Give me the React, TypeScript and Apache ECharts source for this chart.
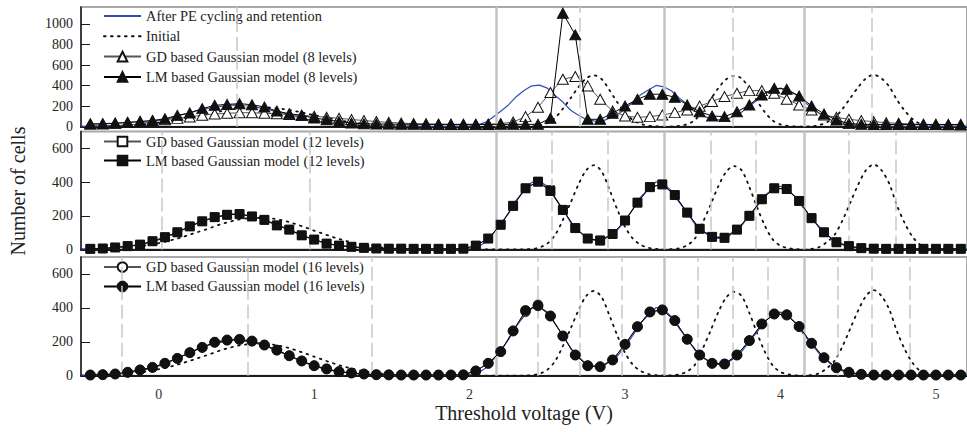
import React, { useEffect, useRef } from 'react';
import * as echarts from 'echarts';

const FONT = '"Liberation Serif", "Times New Roman", serif';

// Fine voltage grid (V) for measured distributions
const voltFine = [
  -0.5, -0.45, -0.4, -0.35, -0.3, -0.25, -0.2, -0.15, -0.1, -0.05,
  0.0, 0.05, 0.1, 0.15, 0.2, 0.25, 0.3, 0.35, 0.4, 0.45,
  0.5, 0.55, 0.6, 0.65, 0.7, 0.75, 0.8, 0.85, 0.9, 0.95,
  1.0, 1.05, 1.1, 1.15, 1.2, 1.25, 1.3, 1.35, 1.4, 1.45,
  1.5, 1.55, 1.6, 1.65, 1.7, 1.75, 1.8, 1.85, 1.9, 1.95,
  2.0, 2.05, 2.1, 2.15, 2.2, 2.25, 2.3, 2.35, 2.4, 2.45,
  2.5, 2.55, 2.6, 2.65, 2.7, 2.75, 2.8, 2.85, 2.9, 2.95,
  3.0, 3.05, 3.1, 3.15, 3.2, 3.25, 3.3, 3.35, 3.4, 3.45,
  3.5, 3.55, 3.6, 3.65, 3.7, 3.75, 3.8, 3.85, 3.9, 3.95,
  4.0, 4.05, 4.1, 4.15, 4.2, 4.25, 4.3, 4.35, 4.4, 4.45,
  4.5, 4.55, 4.6, 4.65, 4.7, 4.75, 4.8, 4.85, 4.9, 4.95,
  5.0, 5.05, 5.1, 5.15, 5.2,
];

const afterPE = [
  3, 4, 5, 7, 10, 13, 19, 24, 33, 44,
  58, 76, 94, 116, 135, 158, 172, 190, 197, 208,
  212, 204, 200, 184, 172, 147, 133, 112, 93, 73,
  60, 43, 33, 24, 19, 14, 11, 8, 6, 5,
  4, 4, 3, 3, 4, 3, 3, 4, 3, 4,
  6, 14, 42, 92, 150, 212, 292, 352, 398, 405,
  375, 305, 240, 160, 112, 70, 56, 52, 82, 115,
  172, 238, 310, 358, 402, 388, 348, 278, 218, 150,
  108, 76, 66, 70, 102, 142, 202, 258, 322, 358,
  375, 352, 310, 242, 188, 128, 88, 46, 28, 14,
  8, 5, 4, 3, 3, 4, 3, 3, 4, 3,
  3, 3, 4, 3, 3,
];

const initial = [
  1, 2, 3, 4, 6, 9, 12, 17, 22, 30,
  38, 48, 60, 73, 88, 103, 118, 134, 150, 163,
  175, 183, 188, 190, 188, 181, 172, 160, 145, 129,
  112, 96, 80, 65, 52, 40, 30, 22, 15, 10,
  6, 4, 2, 1, 0, 0, 0, 0, 0, 0,
  0, 0, 0, 0, 0, 0, 0, 1, 3, 12,
  35, 86, 175, 278, 385, 470, 500, 462, 355, 238,
  135, 65, 28, 10, 3, 1, 2, 8, 25, 65,
  160, 265, 375, 460, 495, 470, 370, 250, 140, 60,
  22, 8, 2, 1, 4, 15, 45, 90, 175, 280,
  385, 470, 505, 470, 390, 260, 155, 75, 27, 8,
  3, 1, 0, 0, 0,
];

// Model evaluation voltages (V)
const voltModel = [
  -0.44, -0.36, -0.28, -0.2, -0.12, -0.04, 0.04, 0.12, 0.2, 0.28,
  0.36, 0.44, 0.52, 0.6, 0.68, 0.76, 0.84, 0.92, 1.0, 1.08,
  1.16, 1.24, 1.32, 1.4, 1.48, 1.56, 1.64, 1.72, 1.8, 1.88,
  1.96, 2.04, 2.12, 2.2, 2.28, 2.36, 2.44, 2.52, 2.6, 2.68,
  2.76, 2.84, 2.92, 3.0, 3.08, 3.16, 3.24, 3.32, 3.4, 3.48,
  3.56, 3.64, 3.72, 3.8, 3.88, 3.96, 4.04, 4.12, 4.2, 4.28,
  4.36, 4.44, 4.52, 4.6, 4.68, 4.76, 4.84, 4.92, 5.0, 5.08,
  5.16,
];

const gd8 = [
  28, 30, 35, 42, 50, 58, 68, 81, 95, 112,
  124, 130, 136, 136, 130, 126, 118, 110, 102, 92,
  82, 70, 60, 50, 42, 35, 30, 27, 24, 22,
  21, 20, 22, 30, 45, 98, 189, 332, 462, 488,
  397, 267, 153, 104, 91, 98, 114, 137, 163, 200,
  245, 293, 325, 351, 351, 325, 267, 212, 163, 114,
  91, 72, 59, 49, 39, 33, 26, 22, 20, 18,
  17,
];

const lm8 = [
  25, 26, 33, 41, 50, 60, 77, 110, 134, 176,
  208, 217, 224, 214, 192, 152, 126, 110, 84, 68,
  51, 36, 29, 26, 25, 24, 24, 23, 23, 23,
  23, 23, 23, 23, 23, 23, 23, 82, 1105, 894,
  72, 72, 130, 202, 267, 316, 316, 287, 212, 146,
  104, 98, 146, 212, 309, 374, 364, 299, 202, 124,
  65, 30, 23, 22, 22, 22, 22, 22, 22, 22,
  22,
];

const gd12 = [
  4, 6, 12, 20, 29, 49, 73, 102, 137, 167,
  192, 206, 210, 196, 176, 143, 118, 84, 59, 35,
  23, 16, 10, 6, 5, 5, 4, 4, 4, 4,
  5, 23, 65, 147, 259, 363, 404, 355, 235, 127,
  65, 55, 92, 172, 278, 372, 386, 323, 219, 123,
  75, 72, 118, 200, 298, 363, 359, 288, 186, 102,
  43, 20, 8, 5, 4, 4, 4, 4, 4, 4,
  4,
];

const lm12 = [
  4, 6, 12, 20, 29, 49, 73, 102, 137, 167,
  192, 206, 210, 196, 176, 143, 118, 84, 59, 35,
  23, 16, 10, 6, 5, 5, 4, 4, 4, 4,
  5, 23, 65, 147, 259, 363, 402, 347, 235, 127,
  65, 53, 92, 172, 278, 370, 386, 323, 219, 123,
  75, 69, 118, 200, 298, 363, 359, 288, 186, 102,
  43, 20, 8, 5, 4, 4, 4, 4, 4, 4,
  4,
];

const gd16 = [
  4, 6, 10, 20, 34, 49, 73, 102, 136, 167,
  197, 210, 214, 204, 181, 151, 118, 87, 59, 40,
  24, 16, 10, 6, 5, 4, 4, 4, 4, 4,
  5, 28, 73, 142, 264, 375, 420, 352, 234, 122,
  59, 53, 93, 185, 289, 376, 388, 325, 215, 122,
  73, 69, 122, 207, 305, 364, 362, 290, 191, 106,
  47, 20, 8, 4, 4, 4, 4, 4, 4, 4,
  4,
];

const lm16 = [
  4, 6, 10, 20, 34, 49, 73, 102, 136, 167,
  197, 210, 214, 204, 181, 151, 118, 87, 59, 40,
  24, 16, 10, 6, 5, 4, 4, 4, 4, 4,
  5, 28, 73, 142, 264, 384, 413, 352, 234, 122,
  59, 53, 93, 185, 289, 376, 388, 325, 215, 122,
  73, 69, 122, 207, 305, 364, 358, 290, 191, 106,
  47, 20, 8, 4, 4, 4, 4, 4, 4, 4,
  4,
];

// Read reference voltages (V)
const solidRefs = [2.17, 3.25, 4.15];
const dashedRefs8 = [0.5, 2.71, 3.69, 4.59];
const dashedRefs12 = [0.02, 0.97, 2.53, 2.89, 3.55, 3.84, 4.44, 4.74];
const dashedRefs16 = [-0.24, 0.57, 1.37, 2.44, 2.71, 2.98, 3.47, 3.69, 3.92, 4.37, 4.59, 4.83];

const yTicksTop = [0, 200, 400, 600, 800, 1000];
const yTicksLow = [0, 200, 400, 600];
const xTicks = [0, 1, 2, 3, 4, 5];

const NAME_AFTER = 'After PE cycling and retention';
const NAME_INIT = 'Initial';
const NAME_GD8 = 'GD based Gaussian model (8 levels)';
const NAME_LM8 = 'LM based Gaussian model (8 levels)';
const NAME_GD12 = 'GD based Gaussian model (12 levels)';
const NAME_LM12 = 'LM based Gaussian model (12 levels)';
const NAME_GD16 = 'GD based Gaussian model (16 levels)';
const NAME_LM16 = 'LM based Gaussian model (16 levels)';

const zip = (xs: number[], ys: number[]) => xs.map((x, i) => [x, ys[i]]);

export default function App() {
  const ref = useRef<HTMLDivElement>(null);

  useEffect(() => {
    document.body.style.margin = '0';
    const chart = echarts.init(ref.current!, null, { renderer: 'svg' });

    const gridLeft = 81;
    const gridWidth = 888.6;
    const grids = [
      { left: gridLeft, top: 7, width: gridWidth, height: 119.7 },
      { left: gridLeft, top: 131.5, width: gridWidth, height: 118 },
      { left: gridLeft, top: 257, width: gridWidth, height: 118.7 },
    ].map((g) => ({ ...g, show: true, borderColor: '#a8a8a8', borderWidth: 2, backgroundColor: 'transparent' }));

    const xAxes = [0, 1, 2].map((i) => ({
      type: 'value',
      gridIndex: i,
      min: -0.5,
      max: 5.2,
      interval: 1,
      splitLine: { show: false },
      axisTick: { show: false },
      axisLine: { onZero: false, lineStyle: { color: '#1a1a1a', width: 2 } },
      axisLabel: {
        show: i === 2,
        margin: 12,
        fontFamily: FONT,
        fontSize: 14,
        color: '#333',
        customValues: xTicks,
        formatter: (v: number) => String(v),
      },
      name: i === 2 ? 'Threshold voltage (V)' : '',
      nameLocation: 'middle',
      nameGap: 24,
      nameTextStyle: { fontFamily: FONT, fontSize: 20, color: '#222' },
    }));

    const yAxes = [0, 1, 2].map((i) => {
      const ticks = i === 0 ? yTicksTop : yTicksLow;
      return {
        type: 'value',
        gridIndex: i,
        min: 0,
        max: i === 0 ? 1165 : 700,
        interval: 200,
        splitLine: { show: false },
        axisLine: { show: true, onZero: false, lineStyle: { color: '#1a1a1a', width: 1.5 } },
        axisTick: { show: true, inside: true, length: 9, lineStyle: { color: '#1a1a1a', width: 1 }, customValues: ticks },
        axisLabel: {
          margin: 8,
          fontFamily: FONT,
          fontSize: 14,
          color: '#222',
          customValues: ticks,
          formatter: (v: number) => String(v),
        },
      };
    });

    const refLines = (dashed: number[]) => [
      ...solidRefs.map((v) => ({ xAxis: v, lineStyle: { color: '#c4c4c4', width: 2.5, type: 'solid' } })),
      ...dashed.map((v) => ({ xAxis: v, lineStyle: { color: '#c8c8c8', width: 1.5, type: [14, 5] } })),
    ];

    const series: any[] = [];
    const dashedSets = [dashedRefs8, dashedRefs12, dashedRefs16];
    for (let i = 0; i < 3; i++) {
      series.push({
        type: 'line',
        name: '__ref' + i,
        xAxisIndex: i,
        yAxisIndex: i,
        data: [],
        z: 1,
        silent: true,
        markLine: {
          silent: true,
          symbol: ['none', 'none'],
          label: { show: false },
          animation: false,
          data: refLines(dashedSets[i]),
        },
      });
      series.push({
        type: 'line',
        name: NAME_INIT,
        xAxisIndex: i,
        yAxisIndex: i,
        data: zip(voltFine, initial),
        showSymbol: false,
        symbol: 'none',
        smooth: 0.3,
        z: 2,
        lineStyle: { color: '#111', width: 1.8, type: [1.6, 5.4], cap: 'round' },
        itemStyle: { color: '#111' },
      });
      series.push({
        type: 'line',
        name: NAME_AFTER,
        xAxisIndex: i,
        yAxisIndex: i,
        data: zip(voltFine, afterPE),
        showSymbol: false,
        symbol: 'none',
        z: 3,
        lineStyle: { color: '#2d4fb5', width: 1.2 },
        itemStyle: { color: '#2d4fb5' },
      });
    }

    const modelSeries = (
      name: string, idx: number, ys: number[], symbol: string, size: any, filled: boolean, z: number
    ) => ({
      type: 'line',
      name,
      xAxisIndex: idx,
      yAxisIndex: idx,
      data: zip(voltModel, ys),
      symbol,
      symbolSize: size,
      showSymbol: true,
      z,
      lineStyle: { color: filled ? '#000' : '#555', width: 1 },
      itemStyle: { color: filled ? '#111' : '#fff', borderColor: '#111', borderWidth: 1, opacity: 1 },
    });

    series.push(modelSeries(NAME_GD8, 0, gd8, 'triangle', [11, 10], false, 4));
    series.push(modelSeries(NAME_LM8, 0, lm8, 'triangle', [11, 10], true, 5));
    series.push(modelSeries(NAME_GD12, 1, gd12, 'rect', 8, false, 4));
    series.push(modelSeries(NAME_LM12, 1, lm12, 'rect', 9, true, 5));
    series.push(modelSeries(NAME_GD16, 2, gd16, 'circle', 9, false, 4));
    series.push(modelSeries(NAME_LM16, 2, lm16, 'circle', 10, true, 5));

    const legendBase = {
      orient: 'vertical',
      left: 98,
      itemWidth: 37,
      itemHeight: 12,
      selectedMode: false,
      textStyle: { fontFamily: FONT, fontSize: 14.4, color: '#222' },
    };
    const noSymbol = { color: 'rgba(0,0,0,0)', borderColor: 'rgba(0,0,0,0)', borderWidth: 0, opacity: 0 };

    chart.setOption({
      animation: false,
      backgroundColor: '#fff',
      grid: grids,
      xAxis: xAxes,
      yAxis: yAxes,
      legend: [
        {
          ...legendBase,
          top: 4,
          itemGap: 6.3,
          data: [
            { name: NAME_AFTER, itemStyle: noSymbol },
            { name: NAME_INIT, itemStyle: noSymbol },
            NAME_GD8,
            NAME_LM8,
          ],
        },
        { ...legendBase, top: 129.5, itemGap: 5, data: [NAME_GD12, NAME_LM12] },
        { ...legendBase, top: 255, itemGap: 5.4, data: [NAME_GD16, NAME_LM16] },
      ],
      graphic: [
        {
          type: 'text',
          x: 18,
          y: 191,
          rotation: Math.PI / 2,
          style: {
            text: 'Number of cells',
            fontFamily: FONT,
            fontSize: 20,
            fill: '#222',
            align: 'center',
            verticalAlign: 'middle',
          },
        },
      ],
      series,
    });

    return () => chart.dispose();
  }, []);

  return <div ref={ref} style={{ position: 'absolute', left: 0, top: 0, width: 967, height: 432 }} />;
}
